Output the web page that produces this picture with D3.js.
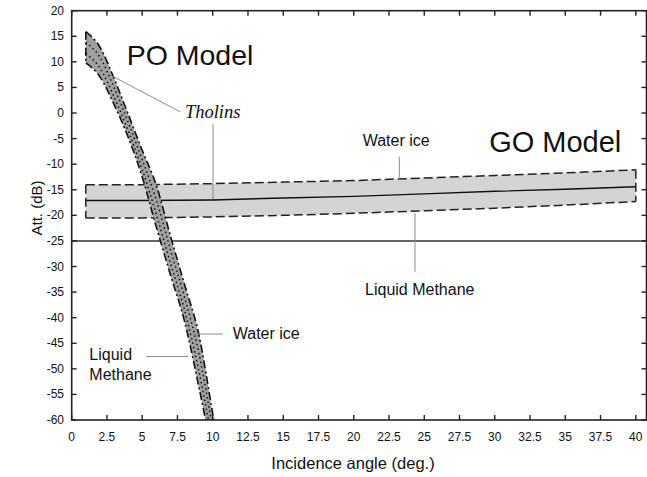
<!DOCTYPE html>
<html><head><meta charset="utf-8">
<script src="https://cdn.jsdelivr.net/npm/d3@7"></script>
<style>
body{margin:0;background:#fff}
svg{display:block}
text{font-family:"Liberation Sans",Arial,Helvetica,sans-serif;fill:#111}
</style></head>
<body><svg id="c" width="647" height="477"></svg>
<script>
// ---- data ----
const xTicks=[0,2.5,5,7.5,10,12.5,15,17.5,20,22.5,25,27.5,30,32.5,35,37.5,40];
const yTicks=[20,15,10,5,0,-5,-10,-15,-20,-25,-30,-35,-40,-45,-50,-55,-60];
const goAngle=[1,5,10,15,20,25,30,35,40];
const goUpper=[-14.0,-14.0,-13.8,-13.5,-13.2,-12.7,-12.2,-11.7,-11.1];
const goMid=[-17.1,-17.1,-17.0,-16.6,-16.3,-15.8,-15.3,-14.9,-14.4];
const goLower=[-20.5,-20.5,-20.3,-20.0,-19.6,-19.1,-18.6,-18.0,-17.3];
const refLevel=-25;
const poAngle=[1,2,3,4,5,6,7,8,9,10,10.5];
const poUpper=[15.9,12.9,6.8,-0.2,-7.3,-14.1,-24,-33.5,-43.1,-58.8,-67];
const poDot1=[13.8,10.9,5.0,-1.8,-9.1,-17.0,-26.7,-36.0,-46.7,-61.7,-69.5];
const poDot2=[11.6,8.8,3.2,-3.4,-11.0,-19.8,-29.3,-38.5,-50.2,-64.5,-71.9];
const poLower=[9.8,7.1,1.7,-4.7,-12.5,-22.3,-31.6,-40.7,-53.3,-67,-74];

// ---- layout ----
const W=647,H=477;
const L=71.7,T=10.7,B=420,Rframe=646.5;
const x=d3.scaleLinear().domain([0,40]).range([L,635.8]);
const y=d3.scaleLinear().domain([-60,20]).range([B,T]);
const svg=d3.select("#c");

svg.append("defs").append("clipPath").attr("id","clip")
  .append("rect").attr("x",L).attr("y",T).attr("width",Rframe-L).attr("height",B-T);
const g=svg.append("g").attr("clip-path","url(#clip)");

// GO band
const goPts=goAngle.map((a,i)=>({a,u:goUpper[i],m:goMid[i],l:goLower[i]}));
g.append("path").datum(goPts)
  .attr("d",d3.area().x(d=>x(d.a)).y0(d=>y(d.l)).y1(d=>y(d.u)))
  .attr("fill","#d4d4d4");
const goLine=k=>d3.line().x(d=>x(d.a)).y(d=>y(d[k]));
g.append("path").datum(goPts).attr("d",goLine("u")).attr("fill","none").attr("stroke","#222").attr("stroke-width",1.5).attr("stroke-dasharray","9,4");
g.append("path").datum(goPts).attr("d",goLine("l")).attr("fill","none").attr("stroke","#222").attr("stroke-width",1.5).attr("stroke-dasharray","9,4");
g.append("path").datum(goPts).attr("d",goLine("m")).attr("fill","none").attr("stroke","#111").attr("stroke-width",1.4);
[0,goPts.length-1].forEach(i=>{
  g.append("line").attr("x1",x(goPts[i].a)).attr("x2",x(goPts[i].a))
   .attr("y1",y(goPts[i].u)).attr("y2",y(goPts[i].l))
   .attr("stroke","#222").attr("stroke-width",1.5).attr("stroke-dasharray","9,4");
});

// reference level
g.append("line").attr("x1",L).attr("x2",Rframe).attr("y1",y(refLevel)).attr("y2",y(refLevel))
  .attr("stroke","#333").attr("stroke-width",1.5);

// PO band
const poPts=poAngle.map((a,i)=>({a,u:poUpper[i],d1:poDot1[i],d2:poDot2[i],l:poLower[i]}));
g.append("path").datum(poPts)
  .attr("d",d3.area().curve(d3.curveMonotoneX).x(d=>x(d.a)).y0(d=>y(d.l)).y1(d=>y(d.u)))
  .attr("fill","#a0a0a0");
const poLine=k=>d3.line().curve(d3.curveMonotoneX).x(d=>x(d.a)).y(d=>y(d[k]));
["u","l"].forEach(k=>g.append("path").datum(poPts).attr("d",poLine(k)).attr("fill","none")
  .attr("stroke","#111").attr("stroke-width",1.6).attr("stroke-dasharray","8,3,2,3"));
["d1","d2"].forEach(k=>g.append("path").datum(poPts).attr("d",poLine(k)).attr("fill","none")
  .attr("stroke","#111").attr("stroke-width",1.5).attr("stroke-dasharray","1.5,3"));
g.append("line").attr("x1",x(poPts[0].a)).attr("x2",x(poPts[0].a)).attr("y1",y(poPts[0].u)).attr("y2",y(poPts[0].l))
  .attr("stroke","#111").attr("stroke-width",1.6).attr("stroke-dasharray","8,3,2,3");

// frame & ticks
const ax=svg.append("g");
ax.append("rect").attr("x",L).attr("y",T).attr("width",Rframe-L).attr("height",B-T)
  .attr("fill","none").attr("stroke","#222").attr("stroke-width",1.6);
xTicks.forEach(t=>{
  ax.append("line").attr("x1",x(t)).attr("x2",x(t)).attr("y1",B).attr("y2",B-5).attr("stroke","#222").attr("stroke-width",1.4);
  ax.append("line").attr("x1",x(t)).attr("x2",x(t)).attr("y1",T).attr("y2",T+5).attr("stroke","#222").attr("stroke-width",1.4);
  ax.append("text").attr("x",x(t)).attr("y",441).attr("text-anchor","middle").attr("font-size",12).text(t);
});
yTicks.forEach(t=>{
  ax.append("line").attr("x1",L).attr("x2",L+5).attr("y1",y(t)).attr("y2",y(t)).attr("stroke","#222").attr("stroke-width",1.4);
  ax.append("line").attr("x1",Rframe).attr("x2",Rframe-5).attr("y1",y(t)).attr("y2",y(t)).attr("stroke","#222").attr("stroke-width",1.4);
  ax.append("text").attr("x",64).attr("y",y(t)+4).attr("text-anchor","end").attr("font-size",12).text(t);
});
svg.append("text").attr("x",353).attr("y",469).attr("text-anchor","middle").attr("font-size",16.5).text("Incidence angle (deg.)");
svg.append("text").attr("transform","translate(42,208) rotate(-90)").attr("text-anchor","middle").attr("font-size",15).text("Att. (dB)");

// annotations (data coordinates)
const lead=(a1,d1,a2,d2)=>svg.append("line").attr("x1",x(a1)).attr("y1",y(d1)).attr("x2",x(a2)).attr("y2",y(d2))
  .attr("stroke","#8a8a8a").attr("stroke-width",1);
const label=(a,d,txt,size,extra)=>{const t=svg.append("text").attr("x",x(a)).attr("y",y(d)).attr("font-size",size).text(txt);if(extra)extra(t);return t;};
label(3.9,9.4,"PO Model",28.5);
label(29.6,-7.56,"GO Model",29);
label(8.03,-0.97,"Tholins",18.5,t=>t.style("font-family","'Liberation Serif','Times New Roman',serif").style("font-style","italic"));
lead(2.72,7.43,7.68,0.26);
lead(10.02,-2.15,10.02,-16.8);
label(20.63,-6.45,"Water ice",16);
lead(23.23,-8.54,23.23,-12.9);
label(20.8,-35.57,"Liquid Methane",16);
lead(24.34,-19.6,24.34,-31.0);
label(11.42,-44.17,"Water ice",16);
lead(8.62,-43.2,10.71,-43.2);
label(1.25,-48.26,"Liquid",16);
label(1.25,-52.17,"Methane",16);
lead(5.27,-47.6,8.27,-47.6);
</script></body></html>
